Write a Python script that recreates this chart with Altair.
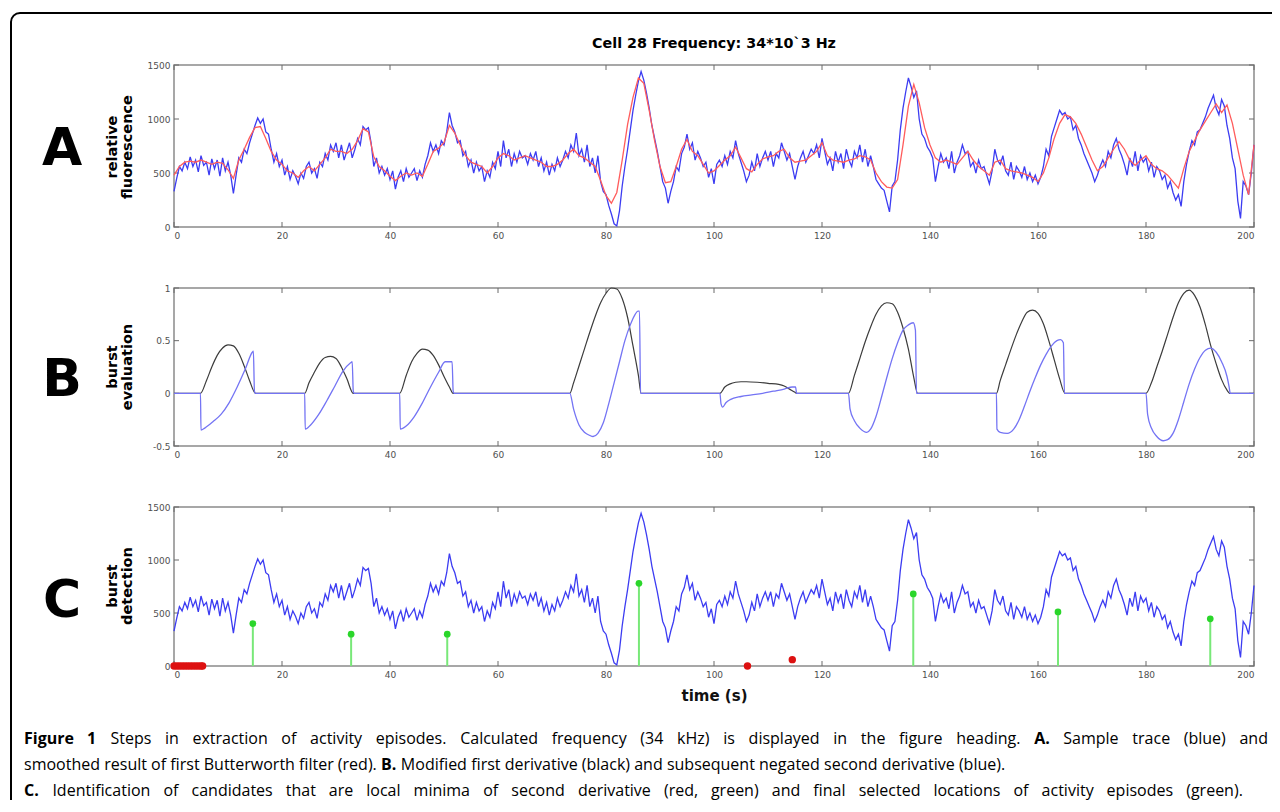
import altair as alt
import numpy as np
import pandas as pd

# ---------------- data ----------------
# raw fluorescence trace (blue), sampled every 0.5 s from 0 to 200 s
trace_blue = [
    330, 450, 560, 520, 600, 540, 650, 560, 620, 510, 660, 570, 600, 480, 630, 540, 620, 470, 640, 520,
    600, 480, 310, 480, 640, 600, 720, 680, 780, 860, 940, 1010, 960, 1000, 880, 860, 720, 600, 680, 560,
    620, 480, 560, 440, 520, 470, 400, 500, 450, 560, 600, 500, 540, 450, 600, 560, 680, 620, 760, 700,
    780, 640, 760, 620, 700, 780, 640, 720, 820, 760, 930, 900, 920, 780, 560, 640, 500, 560, 480, 540,
    440, 520, 350, 460, 520, 420, 540, 460, 500, 540, 430, 520, 460, 580, 660, 780, 700, 760, 680, 800,
    760, 880, 1060, 940, 880, 780, 800, 660, 700, 560, 620, 500, 600, 520, 560, 420, 520, 460, 600, 540,
    700, 560, 800, 640, 720, 560, 680, 600, 700, 640, 660, 580, 680, 620, 700, 560, 640, 520, 600, 480,
    580, 520, 640, 560, 620, 700, 640, 760, 700, 870, 660, 720, 600, 760, 560, 640, 500, 660, 420, 330,
    300, 200, 120, 30, 10, 150, 380, 560, 720, 900, 1080, 1220, 1350, 1440, 1360, 1240, 1100, 940, 820, 700,
    560, 420, 360, 220, 330, 420, 560, 520, 680, 740, 860, 720, 780, 620, 700, 640, 560, 600, 460, 540,
    400, 580, 620, 560, 660, 580, 700, 640, 800, 680, 600, 520, 420, 480, 600, 520, 680, 560, 640, 700,
    620, 700, 560, 680, 640, 780, 700, 620, 680, 560, 440, 560, 640, 700, 600, 660, 720, 680, 760, 640,
    820, 700, 580, 640, 520, 700, 600, 680, 540, 720, 620, 560, 700, 640, 760, 600, 720, 560, 660, 560,
    440, 400, 360, 340, 240, 140, 380, 420, 620, 900, 1100, 1250, 1380, 1300, 1200, 1260, 1000, 860, 820, 740,
    700, 640, 420, 560, 680, 600, 640, 540, 700, 500, 600, 660, 760, 680, 700, 560, 600, 500, 620, 540,
    560, 480, 400, 520, 720, 620, 580, 660, 520, 480, 600, 440, 560, 520, 460, 560, 440, 500, 420, 480,
    400, 460, 560, 720, 660, 840, 920, 1000, 1080, 1040, 1060, 1000, 1020, 900, 940, 820, 760, 680, 620, 560,
    500, 420, 480, 560, 620, 560, 700, 640, 760, 820, 720, 660, 580, 480, 640, 560, 700, 520, 660, 600,
    640, 520, 600, 460, 560, 520, 440, 480, 360, 420, 320, 250, 300, 190, 420, 580, 700, 800, 760, 880,
    900, 960, 1020, 1100, 1160, 1220, 1100, 1040, 1180, 1120, 940, 820, 640, 540, 240, 80, 420, 380, 300, 500,
    760,
]
# Butterworth-smoothed trace (red), sampled every 1 s from 0 to 200 s
trace_red = [
    480, 560, 600, 610, 600, 620, 600, 580, 600, 590,
    530, 450, 620, 720, 830, 920, 930, 820, 700, 620,
    580, 520, 500, 460, 520, 560, 520, 580, 640, 720,
    700, 700, 680, 720, 800, 910, 880, 650, 560, 520,
    470, 430, 470, 500, 480, 500, 470, 580, 700, 730,
    780, 940, 870, 760, 660, 600, 580, 560, 500, 560,
    640, 680, 660, 620, 640, 660, 640, 620, 600, 560,
    560, 580, 620, 680, 720, 660, 640, 600, 560, 430,
    290, 220, 320, 620, 950, 1200, 1380, 1330, 1080, 800,
    560, 410, 420, 560, 720, 810, 700, 660, 580, 500,
    520, 570, 620, 660, 740, 640, 540, 510, 580, 630,
    650, 660, 700, 720, 640, 600, 610, 620, 660, 700,
    780, 660, 620, 610, 600, 620, 630, 660, 650, 620,
    500, 420, 370, 360, 440, 760, 1120, 1320, 1150, 920,
    760, 640, 600, 620, 600, 580, 640, 700, 620, 560,
    520, 480, 600, 620, 540, 520, 510, 500, 480, 460,
    420, 500, 640, 820, 960, 1040, 1020, 960, 860, 740,
    620, 520, 560, 640, 720, 790, 720, 620, 570, 620,
    660, 580, 540, 520, 480, 420, 360, 540, 700, 800,
    900, 980, 1060, 1140, 1060, 1130, 960, 720, 480, 300,
    760,
]
# panel B: modified first derivative (black)
deriv1_t = [0,
    4.9, 6, 7, 8, 9, 10, 11, 12, 13, 14, 15.1,
    24.2, 25, 26, 27, 28, 29, 30, 31, 32, 33.2,
    41.8, 43, 44, 45, 46, 47, 48, 49, 50, 51, 51.7,
    73.3, 74, 75, 76, 77, 78, 79, 80, 81, 82, 83, 84, 85, 86, 86.5,
    101.1, 102, 103, 104, 105, 106, 108, 110, 112, 113, 114, 115, 115.3,
    124.9, 126, 127, 128, 129, 130, 131, 132, 133, 134, 135, 136, 137, 137.7,
    152.3, 153, 154, 155, 156, 157, 158, 159, 160, 161, 162, 163, 164, 165,
    180, 181, 182, 183, 184, 185, 186, 187, 188, 189, 190, 191, 192, 193, 194, 195, 195.5,
    200]
deriv1_v = [0,
    0, 0.12, 0.25, 0.36, 0.43, 0.46, 0.45, 0.38, 0.26, 0.12, 0,
    0, 0.1, 0.2, 0.29, 0.34, 0.35, 0.33, 0.25, 0.14, 0,
    0, 0.17, 0.3, 0.38, 0.42, 0.41, 0.36, 0.27, 0.16, 0.06, 0,
    0, 0.1, 0.26, 0.42, 0.58, 0.73, 0.86, 0.95, 1.0, 0.99, 0.9, 0.72, 0.45, 0.17, 0,
    0, 0.06, 0.09, 0.105, 0.11, 0.11, 0.105, 0.095, 0.085, 0.07, 0.04, 0.01, 0,
    0, 0.17, 0.33, 0.49, 0.63, 0.75, 0.83, 0.86, 0.85, 0.77, 0.62, 0.42, 0.15, 0,
    0, 0.12, 0.27, 0.42, 0.56, 0.68, 0.77, 0.79, 0.76, 0.66, 0.5, 0.32, 0.14, 0,
    0, 0.1, 0.25, 0.4, 0.56, 0.72, 0.86, 0.95, 0.98, 0.93, 0.82, 0.65, 0.45, 0.28, 0.13, 0.03, 0,
    0]
# panel B: negated second derivative (blue)
deriv2_t = [0,
    4.9, 5.0, 5.7, 7.2, 8.7, 10.2, 11.7, 13.2, 14.5, 14.7, 14.9, 15.1,
    24.2, 24.3, 25.3, 26.8, 28.3, 29.8, 31.3, 32.7, 33.0, 33.2, 33.4,
    41.8, 41.9, 43, 44.5, 46, 47.5, 49, 50.2, 51.5, 51.7, 51.9,
    73.3, 74, 75, 76, 77, 77.6, 78.5, 79.5, 80.5, 81.5, 82.5, 83.5, 84.5, 85.4, 85.9, 86.2, 86.4,
    101.1, 101.3, 101.6, 102.2, 103, 105, 107, 109, 111, 113, 114.5, 115.1, 115.3,
    124.9, 125.2, 126, 127, 128.3, 129, 130, 131, 132, 133, 134, 135, 136, 136.9, 137.3, 137.5,
    152.3, 152.4, 153, 154.3, 155.5, 156.5, 157.5, 158.5, 159.5, 160.5, 161.5, 162.5, 163.5, 164.2, 164.7, 164.9,
    180, 180.3, 181, 182, 183.2, 184, 185, 186, 187, 188, 189, 190, 191, 192, 193, 194, 195, 195.4, 195.6,
    200]
deriv2_v = [0,
    0, -0.35, -0.33, -0.27, -0.2, -0.09, 0.06, 0.23, 0.39, 0.40, 0.02, 0,
    0, -0.34, -0.3, -0.2, -0.07, 0.07, 0.21, 0.29, 0.3, 0.02, 0,
    0, -0.34, -0.31, -0.22, -0.09, 0.06, 0.2, 0.3, 0.3, 0.02, 0,
    0, -0.15, -0.3, -0.37, -0.4, -0.41, -0.38, -0.28, -0.1, 0.1, 0.3, 0.5, 0.65, 0.75, 0.78, 0.78, 0,
    0, -0.1, -0.13, -0.09, -0.06, -0.03, -0.015, 0.0, 0.02, 0.04, 0.06, 0.06, 0,
    0, -0.15, -0.26, -0.33, -0.37, -0.34, -0.22, -0.04, 0.15, 0.33, 0.48, 0.6, 0.65, 0.67, 0.6, 0,
    0, -0.34, -0.37, -0.38, -0.34, -0.25, -0.12, 0.02, 0.15, 0.27, 0.37, 0.45, 0.5, 0.51, 0.48, 0,
    0, -0.2, -0.33, -0.41, -0.45, -0.44, -0.38, -0.25, -0.08, 0.09, 0.23, 0.34, 0.41, 0.43, 0.39, 0.3, 0.16, 0.06, 0,
    0]
# panel C: final selected episodes (green stems) and rejected candidates (red)
episode_t = [14.6, 32.8, 50.6, 86.1, 136.9, 163.7, 191.9]
episode_v = [400, 300, 300, 780, 680, 510, 445]
candidate_t = [0, 0.5, 1, 1.5, 2, 2.5, 3, 3.5, 4, 4.5, 5, 5.3, 106.2, 114.5]
candidate_v = [0, 0, 0, 0, 0, 0, 0, 0, 0, 0, 0, 0, 0, 60]

x_ticks = [0, 20, 40, 60, 80, 100, 120, 140, 160, 180, 200]
fl_ticks = [0, 500, 1000, 1500]
ev_ticks = [-0.5, 0, 0.5, 1]

# caption text (bold words marked with *)
caption_line1 = "*Figure *1 Steps in extraction of activity episodes. Calculated frequency (34 kHz) is displayed in the figure heading. *A. Sample trace (blue) and"
caption_line2 = "smoothed result of first Butterworth filter (red). *B. Modified first derivative (black) and subsequent negated second derivative (blue)."
caption_line3 = "*C. Identification of candidates that are local minima of second derivative (red, green) and final selected locations of activity episodes (green)."

assert len(trace_blue) == 401 and len(trace_red) == 201
assert len(deriv1_t) == len(deriv1_v) and len(deriv2_t) == len(deriv2_v)

blue_df = pd.DataFrame({"t": np.arange(len(trace_blue)) * 0.5, "v": trace_blue})
red_df = pd.DataFrame({"t": np.arange(len(trace_red)) * 1.0, "v": trace_red})
d1_df = pd.DataFrame({"t": deriv1_t, "v": deriv1_v})
d2_df = pd.DataFrame({"t": deriv2_t, "v": deriv2_v})
ep_df = pd.DataFrame({"t": episode_t, "v": episode_v, "z": [0] * len(episode_t)})
cand_df = pd.DataFrame({"t": candidate_t, "v": candidate_v})

# ---------------- layout ----------------
W, H = 1080, 601
OX, OY = 174, 65          # page position of the plot origin (8px page margin + padding)
FONT = "DejaVu Sans"
CAP_FONT = "Open Sans"
FRAME = "#8a8a8a"
TICK = "#6a6a6a"
XS = alt.Scale(domain=[0, 200], nice=False, zero=False)
one = pd.DataFrame({"k": [0]})


def panel(dom, rng, yticks, xoff, data_layers, xtitle=None):
    ys = alt.Scale(domain=dom, range=rng, nice=False, zero=False)
    xaxis_kw = dict(values=x_ticks, orient="bottom", offset=xoff, ticks=False, domain=False,
                    grid=False, labelFont=FONT, labelFontSize=9, labelColor="#505050",
                    labelPadding=4, format="d")
    if xtitle:
        xaxis = alt.Axis(title=xtitle, titleFont=FONT, titleFontSize=15, titleFontWeight="bold",
                         titleColor="#111111", titlePadding=9, **xaxis_kw)
    else:
        xaxis = alt.Axis(title=None, **xaxis_kw)
    yaxis = alt.Axis(values=yticks, orient="left", ticks=False, domain=False, grid=False,
                     labelFont=FONT, labelFontSize=9, labelColor="#505050", labelPadding=4,
                     labelExpr="'' + datum.value", title=None)

    def X(f):
        return alt.X(f, scale=XS, axis=xaxis)

    def Y(f):
        return alt.Y(f, scale=ys, axis=yaxis)

    box = pd.DataFrame({"x0": [0], "x1": [200], "y0": [dom[0]], "y1": [dom[1]]})
    frame = alt.Chart(box).mark_rect(filled=False, stroke=FRAME, strokeWidth=1.5).encode(
        x=X("x0:Q"), x2="x1", y=Y("y0:Q"), y2="y1")
    xt = pd.DataFrame({"t": x_ticks, "top": [dom[1]] * len(x_ticks), "bot": [dom[0]] * len(x_ticks)})
    yt = pd.DataFrame({"v": yticks, "l": [0] * len(yticks), "r": [200] * len(yticks)})
    top_t = alt.Chart(xt).mark_rule(color=TICK, strokeWidth=1, y2Offset=5).encode(
        x=X("t:Q"), y=Y("top:Q"), y2="top")
    bot_t = alt.Chart(xt).mark_rule(color=TICK, strokeWidth=1, y2Offset=-5).encode(
        x=X("t:Q"), y=Y("bot:Q"), y2="bot")
    left_t = alt.Chart(yt).mark_rule(color=TICK, strokeWidth=1, x2Offset=5).encode(
        x=X("l:Q"), x2="l", y=Y("v:Q"))
    right_t = alt.Chart(yt).mark_rule(color=TICK, strokeWidth=1, x2Offset=-5).encode(
        x=X("r:Q"), x2="r", y=Y("v:Q"))
    layers = [frame, top_t, bot_t, left_t, right_t]
    for lay in data_layers:
        layers.append(lay(X, Y))
    return alt.layer(*layers)


def line(df, color, width, interp="linear"):
    def f(X, Y):
        return alt.Chart(df).mark_line(color=color, strokeWidth=width, interpolate=interp).encode(
            x=X("t:Q"), y=Y("v:Q"))
    return f


def stems(df, color, width):
    def f(X, Y):
        return alt.Chart(df).mark_rule(color=color, strokeWidth=width).encode(
            x=X("t:Q"), y=Y("z:Q"), y2="v")
    return f


def dots(df, color, size):
    def f(X, Y):
        return alt.Chart(df).mark_circle(color=color, size=size, opacity=1).encode(
            x=X("t:Q"), y=Y("v:Q"))
    return f


BLUE = "#3c3cf2"
pA = panel([0, 1500], [162, 0], fl_ticks, -439,
           [line(blue_df, BLUE, 1.3), line(red_df, "#ff5c5c", 1.3)])
pB = panel([-0.5, 1], [381, 223], ev_ticks, -220,
           [line(d1_df, "#3c3c3c", 1.2, "monotone"), line(d2_df, "#7474f4", 1.3, "monotone")])
pC = panel([0, 1500], [601, 442], fl_ticks, 0,
           [stems(ep_df, "#78e878", 2), line(blue_df, BLUE, 1.3),
            dots(ep_df, "#2ad62a", 45), dots(cand_df, "#dd1111", 55)],
           xtitle="time (s)")


def text(s, x, y, size, weight="normal", font=FONT, angle=0, align="left", color="black"):
    return alt.Chart(one).mark_text(font=font, fontSize=size, fontWeight=weight, angle=angle,
                                    align=align, baseline="middle", color=color,
                                    lineBreak="\n", lineHeight=15).encode(
        x=alt.value(x), y=alt.value(y), text=alt.value(s))


# --- caption: word-by-word placement (justified lines like the journal page) ---
CW = dict(zip("abcdefghijklmnopqrstuvwxyz",
              [.556, .613, .476, .613, .561, .339, .548, .614, .253, .253, .525, .253, .930,
               .614, .604, .613, .613, .408, .477, .353, .614, .501, .778, .524, .502, .477]))
CW.update(dict(zip("ABCDEFGHIJKLMNOPQRSTUVWXYZ",
                   [.633, .648, .631, .729, .547, .496, .732, .738, .279, .267, .6, .509, .904,
                    .762, .779, .602, .779, .618, .549, .553, .728, .593, .925, .577, .561, .559])))
CW.update({d: .572 for d in "0123456789"})
CW.update({"(": .296, ")": .296, ".": .266, ",": .245, " ": .26})
CAP_FS = 16


def word_w(w, bold):
    return sum(CW.get(c, .55) for c in w) * CAP_FS * (1.07 if bold else 1.0)


def place(line_text, x0, y, x1=None):
    words = [(w.lstrip("*"), w.startswith("*")) for w in line_text.split(" ")]
    widths = [word_w(w, b) for w, b in words]
    if x1 is None:
        gap = CW[" "] * CAP_FS
    else:
        gap = (x1 - x0 - sum(widths)) / (len(words) - 1)
    rows, x = [], x0
    for (w, b), wd in zip(words, widths):
        rows.append({"w": w, "px": x - OX, "py": y - OY, "bold": b})
        x += wd + gap
    return rows


cap_rows = (place(caption_line1, 24, 739, 1268)
            + place(caption_line2, 24, 765)
            + place(caption_line3, 24, 791, 1243))
cap_df = pd.DataFrame(cap_rows)


def cap_layer(bold):
    d = cap_df[cap_df["bold"] == bold][["w", "px", "py"]]
    return alt.Chart(d).mark_text(font=CAP_FONT, fontSize=CAP_FS,
                                  fontWeight="bold" if bold else "normal",
                                  align="left", baseline="middle", color="black").encode(
        x=alt.X("px:Q", scale=None), y=alt.Y("py:Q", scale=None), text="w:N")


border = alt.Chart(one).mark_rect(filled=False, stroke="black", strokeWidth=2,
                                  cornerRadius=9).encode(
    x=alt.value(-163), x2=alt.value(1200), y=alt.value(-52), y2=alt.value(900))

decor = [
    border,
    text("Cell 28 Frequency: 34*10`3 Hz", 540, -21, 14.3, "bold", align="center"),
    text("A", -112, 84, 52, "bold", align="center"),
    text("B", -112, 315, 52, "bold", align="center"),
    text("C", -112, 536, 52, "bold", align="center"),
    text("relative\nfluorescence", -61, 82, 14.5, "bold", angle=270, align="center"),
    text("burst\nevaluation", -61, 302, 14.5, "bold", angle=270, align="center"),
    text("burst\ndetection", -61, 521, 14.5, "bold", angle=270, align="center"),
    cap_layer(False),
    cap_layer(True),
]

chart = alt.layer(pA, pB, pC, *decor).resolve_scale(
    x="independent", y="independent"
).properties(
    width=W, height=H,
    padding={"left": 166, "top": 57, "right": 18, "bottom": 134},
    autosize=alt.AutoSizeParams(type="none"),
    background="white",
).configure_view(strokeWidth=0)

chart.save("out.html", embed_options={"renderer": "svg", "actions": False})
